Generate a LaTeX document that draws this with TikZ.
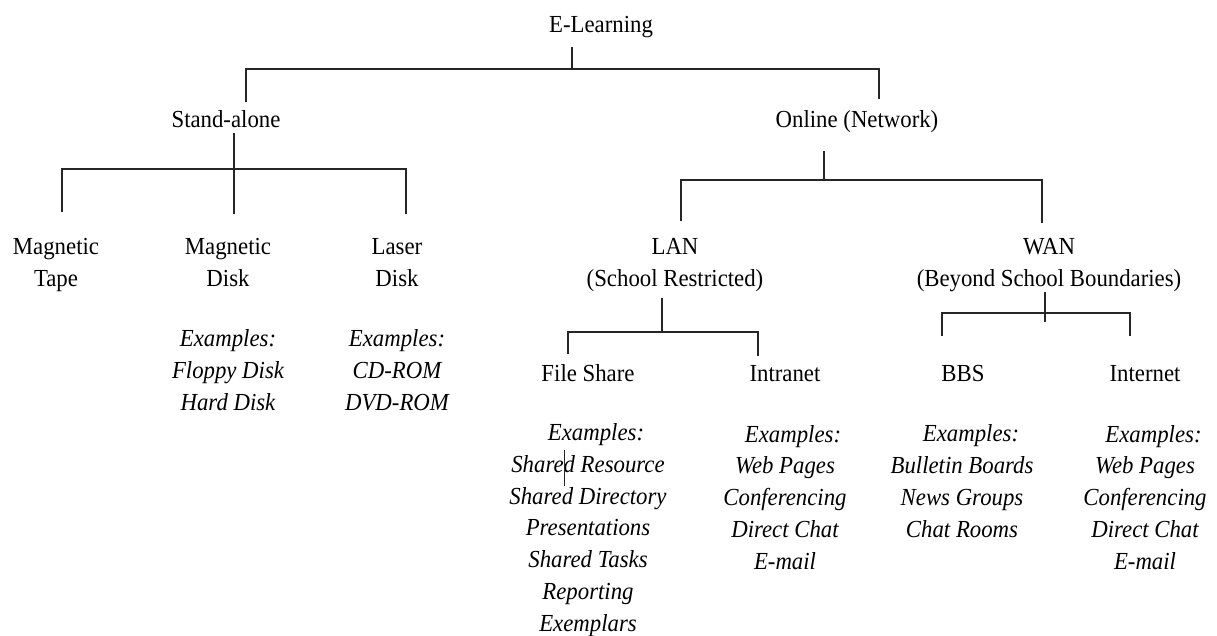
\documentclass[tikz,border=0pt]{standalone}
\usepackage{fontspec}
\setmainfont{Liberation Serif}[FakeStretch=0.93]
\begin{document}
\begin{tikzpicture}[x=1pt,y=-1pt,
  lbl/.style={anchor=base, inner sep=0pt, align=center, font=\fontsize{24.5}{31.7}\selectfont},
  ex/.style={lbl, font=\fontsize{24.5}{31.7}\selectfont\itshape},
  conn/.style={draw=black!85, line width=1.4pt, line cap=butt, line join=miter}]
\useasboundingbox (0,0) rectangle (1217,635);
% labels (anchor = baseline of the last line)
\node[lbl] (el) at (601,32) {E-Learning};
\node[lbl] (sa) at (226,127) {Stand-alone};
\node[lbl] (on) at (857,127) {Online (Network)};
\node[lbl] (mt) at (56,286) {Magnetic\\Tape};
\node[lbl] (md) at (228,286) {Magnetic\\Disk};
\node[lbl] (ld) at (397,286) {Laser\\Disk};
\node[lbl] (lan) at (675,286) {LAN\\(School Restricted)};
\node[lbl] (wan) at (1049,286) {WAN\\(Beyond School Boundaries)};
\node[lbl] (fs) at (588,381) {File Share};
\node[lbl] (in) at (785,381) {Intranet};
\node[lbl] (bbs) at (963,381) {BBS};
\node[lbl] (int) at (1145,381) {Internet};
% examples
\node[ex] (mdx) at (228,410) {Examples:\\Floppy Disk\\Hard Disk};
\node[ex] (ldx) at (397,410) {Examples:\\CD-ROM\\DVD-ROM};
\node[ex] (fsx) at (588,631) {\hspace*{16pt}Examples:\\Shared Resource\\Shared Directory\\Presentations\\Shared Tasks\\Reporting\\Exemplars};
\node[ex] (inx) at (785,569) {\hspace*{16pt}Examples:\\Web Pages\\Conferencing\\Direct Chat\\E-mail};
\node[ex] (bbsx) at (962,537) {\hspace*{18pt}Examples:\\Bulletin Boards\\News Groups\\Chat Rooms};
\node[ex] (intx) at (1145,569) {\hspace*{17pt}Examples:\\Web Pages\\Conferencing\\Direct Chat\\E-mail};
% connector points
\coordinate (el-s) at (572,47);
\coordinate (el-j) at (572,69);
\coordinate (sa-n) at (246,102);
\coordinate (on-n) at (879,99);
\coordinate (sa-s) at (234,133);
\coordinate (sa-j) at (234,169);
\coordinate (mt-n) at (62,212);
\coordinate (md-n) at (234,214);
\coordinate (ld-n) at (406,214);
\coordinate (on-s) at (824,151);
\coordinate (on-j) at (824,180);
\coordinate (lan-n) at (681,221);
\coordinate (wan-n) at (1042,223);
\coordinate (lan-s) at (662,298);
\coordinate (lan-j) at (662,332);
\coordinate (fs-n) at (568,354);
\coordinate (in-n) at (758,356);
\coordinate (wan-s) at (1045,292);
\coordinate (wan-j) at (1045,322);
\coordinate (wan-b) at (1045,313);
\coordinate (bbs-n) at (942,336);
\coordinate (int-n) at (1130,336);
\coordinate (stray-a) at (564,450);
\coordinate (stray-b) at (564,486);
% connectors
\draw[conn] (el-s) -- (el-j);
\draw[conn] (sa-n) |- (el-j) -| (on-n);
\draw[conn] (sa-s) -- (sa-j) -- (md-n);
\draw[conn] (mt-n) |- (sa-j) -| (ld-n);
\draw[conn] (on-s) -- (on-j);
\draw[conn] (lan-n) |- (on-j) -| (wan-n);
\draw[conn] (lan-s) -- (lan-j);
\draw[conn] (fs-n) |- (lan-j) -| (in-n);
\draw[conn] (wan-s) -- (wan-j);
\draw[conn] (bbs-n) |- (wan-b) -| (int-n);
\draw[conn, line width=1pt] (stray-a) -- (stray-b);
\end{tikzpicture}
\end{document}
